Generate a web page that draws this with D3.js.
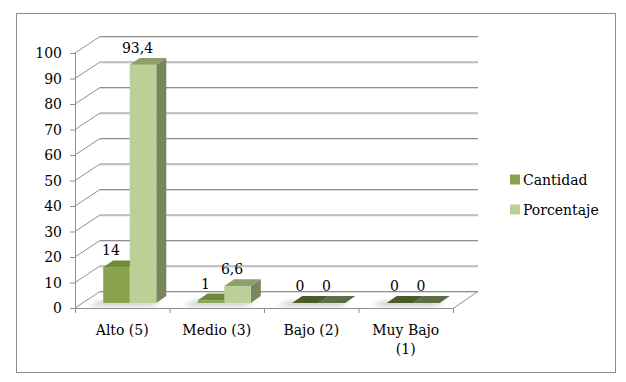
<!DOCTYPE html>
<html><head><meta charset="utf-8">
<script src="https://cdn.jsdelivr.net/npm/d3@7/dist/d3.min.js"></script>
<style>body{margin:0;background:#fff}svg{display:block}text{font-family:"DejaVu Serif",serif;font-size:14px;fill:#000}</style>
</head><body>
<svg id="c" width="626" height="382"></svg>
<script>
const categories = ["Alto (5)", "Medio (3)", "Bajo (2)", "Muy Bajo (1)"];
const seriesNames = ["Cantidad", "Porcentaje"];
const cantidad = [14, 1, 0, 0];
const porcentaje = [93.4, 6.6, 0, 0];
const yTicks = [0, 10, 20, 30, 40, 50, 60, 70, 80, 90, 100];

const svg = d3.select("#c");
const fmt = d3.formatLocale({decimal: ",", thousands: ".", grouping: [3], currency: ["", ""]}).format("~g");

const DX = 25, DY = -17;
const x = d3.scaleBand().domain(categories).range([75, 453]);
const y = d3.scaleLinear().domain([0, 100]).range([308, 53]);
const sub = d3.scaleBand().domain(seriesNames).range([0, x.bandwidth()]).paddingInner(0).paddingOuter(0.78);
const P = (px, v, f) => [px + f * DX, y(v) + f * DY];
const F0 = 0.3, F1 = 0.7;

const colors = {
  Cantidad: {front: "#88a34b", top: "#6f8a38", side: "#637a33", zero: "#4b5c2a"},
  Porcentaje: {front: "#bccf96", top: "#8e9f6c", side: "#77875b", zero: "#5f6d47"}
};

const defs = svg.append("defs");
defs.append("filter").attr("id", "blur").attr("x", "-50%").attr("y", "-50%").attr("width", "200%").attr("height", "200%")
  .append("feGaussianBlur").attr("stdDeviation", 2.5);

// outer border
svg.append("rect").attr("x", 16.5).attr("y", 13.5).attr("width", 599).attr("height", 359)
  .attr("fill", "#fff").attr("stroke", "#8c8c8c");

const grid = svg.append("g");
// back wall gridlines
yTicks.forEach(t => {
  const a = P(75, t, 1), b = P(453, t, 1);
  const c = P(75, t, 0);
  grid.append("line").attr("x1", a[0]).attr("y1", a[1] + 1.5).attr("x2", b[0]).attr("y2", b[1] + 1.5).attr("stroke", "#dcdcdc");
  grid.append("line").attr("x1", a[0]).attr("y1", a[1] + 0.5).attr("x2", b[0]).attr("y2", b[1] + 0.5).attr("stroke", "#8f8f8f");
  // side wall diagonal
  grid.append("line").attr("x1", c[0]).attr("y1", c[1]).attr("x2", a[0]).attr("y2", a[1] + 0.5).attr("stroke", "#8f8f8f");
  // y tick mark
  grid.append("line").attr("x1", 70).attr("y1", c[1] + 0.5).attr("x2", 75).attr("y2", c[1] + 0.5).attr("stroke", "#8f8f8f");
  grid.append("text").attr("x", 62).attr("y", c[1] + 5).attr("text-anchor", "end").text(t);
});
// front axis
grid.append("line").attr("x1", 75.5).attr("y1", y(100)).attr("x2", 75.5).attr("y2", y(0)).attr("stroke", "#8f8f8f");
// floor front edge & right edge
const fl = P(75, 0, 0), fr = P(453, 0, 0), br = P(453, 0, 1);
grid.append("line").attr("x1", fl[0]).attr("y1", fl[1] + 0.5).attr("x2", fr[0]).attr("y2", fr[1] + 0.5).attr("stroke", "#8f8f8f");
grid.append("line").attr("x1", fr[0]).attr("y1", fr[1] + 0.5).attr("x2", br[0]).attr("y2", br[1] + 0.5).attr("stroke", "#8f8f8f");
// x ticks
d3.range(categories.length + 1).forEach(i => {
  const px = 75 + i * x.bandwidth();
  grid.append("line").attr("x1", px + 0.5).attr("y1", y(0)).attr("x2", px + 0.5).attr("y2", y(0) + 5).attr("stroke", "#8f8f8f");
});

const poly = pts => "M" + pts.map(p => p.join(",")).join("L") + "Z";

// shadows
const shadowG = svg.append("g").attr("filter", "url(#blur)");
categories.forEach((cat, i) => {
  const x0 = x(cat) + sub("Cantidad") - 6, x1 = x(cat) + sub("Porcentaje") + sub.bandwidth() + 3;
  shadowG.append("path").attr("d", poly([P(x0 - 4, 0, 0.12), P(x1 - 4, 0, 0.12), P(x1, 0, F0 + 0.1), P(x0, 0, F0 + 0.1)]))
    .attr("fill", "#9a9a9a").attr("opacity", 0.55);
});

const bars = svg.append("g");
const data = [cantidad, porcentaje];
categories.forEach((cat, i) => {
  seriesNames.forEach((s, si) => {
    const v = data[si][i];
    const x0 = x(cat) + sub(s), x1 = x0 + sub.bandwidth();
    const c = colors[s];
    if (v > 0) {
      bars.append("path").attr("d", poly([P(x1, 0, F0), P(x1, 0, F1), P(x1, v, F1), P(x1, v, F0)])).attr("fill", c.side);
      bars.append("path").attr("d", poly([P(x0, 0, F0), P(x1, 0, F0), P(x1, v, F0), P(x0, v, F0)])).attr("fill", c.front);
    }
    bars.append("path").attr("d", poly([P(x0, v, F0), P(x1, v, F0), P(x1, v, F1), P(x0, v, F1)])).attr("fill", v > 0 ? c.top : c.zero);
  });
});

// data labels
const labels = svg.append("g");
categories.forEach((cat, i) => {
  seriesNames.forEach((s, si) => {
    const v = data[si][i];
    const x0 = x(cat) + sub(s);
    const top = P(x0 + sub.bandwidth() / 2, v, F1);
    labels.append("text").attr("x", x0 + sub.bandwidth() / 2 + 2).attr("y", top[1] - 5)
      .attr("text-anchor", "middle").text(fmt(v));
  });
});

// x labels
categories.forEach(cat => {
  const cx = x(cat) + x.bandwidth() / 2;
  const lines = cat === "Muy Bajo (1)" ? ["Muy Bajo", "(1)"] : [cat];
  lines.forEach((ln, k) => {
    svg.append("text").attr("x", cx).attr("y", 335 + k * 19).attr("text-anchor", "middle").text(ln);
  });
});

// legend
const lg = svg.append("g");
seriesNames.forEach((s, i) => {
  lg.append("rect").attr("x", 510).attr("y", 174.5 + i * 30).attr("width", 10).attr("height", 10).attr("fill", colors[s].front);
  lg.append("text").attr("x", 523).attr("y", 184.5 + i * 30).text(s);
});
</script>
</body></html>
